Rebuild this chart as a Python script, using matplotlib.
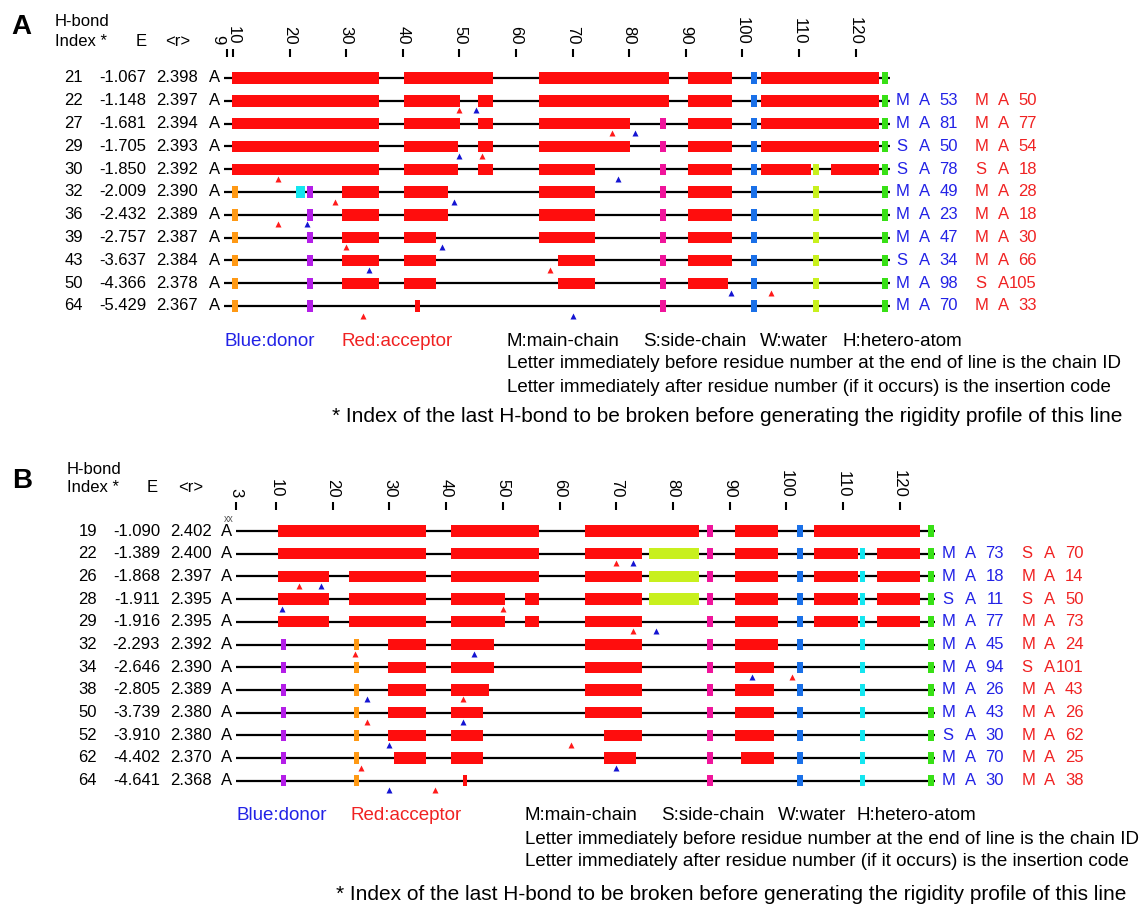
import matplotlib
matplotlib.use("Agg")
import matplotlib.pyplot as plt
from matplotlib.transforms import blended_transform_factory, ScaledTranslation

plt.rcParams['font.family'] = ['Liberation Sans', 'DejaVu Sans']

W, H = 1144, 906

# ---------------- data: panel A ----------------
a_index = [21, 22, 27, 29, 30, 32, 36, 39, 43, 50, 64]
a_energy = ["-1.067", "-1.148", "-1.681", "-1.705", "-1.850", "-2.009",
            "-2.432", "-2.757", "-3.637", "-4.366", "-5.429"]
a_rmean = ["2.398", "2.397", "2.394", "2.393", "2.392", "2.390",
           "2.389", "2.387", "2.384", "2.378", "2.367"]
a_donor = [None, ("M", "A", 53), ("M", "A", 81), ("S", "A", 50), ("S", "A", 78),
           ("M", "A", 49), ("M", "A", 23), ("M", "A", 47), ("S", "A", 34),
           ("M", "A", 98), ("M", "A", 70)]
a_acceptor = [None, ("M", "A", 50), ("M", "A", 77), ("M", "A", 54), ("S", "A", 18),
              ("M", "A", 28), ("M", "A", 18), ("M", "A", 30), ("M", "A", 66),
              ("S", "A", 105), ("M", "A", 33)]
# rigid clusters per line: (first residue, last residue, cluster id)
a_clusters = [
    [(9.8, 35.8, 1), (40.2, 56, 1), (64, 87, 1), (90.4, 98.1, 1), (101.6, 102.6, 2),
     (103.2, 124.2, 1), (124.6, 125.7, 3)],
    [(9.8, 35.8, 1), (40.2, 50.1, 1), (53.3, 56, 1), (64, 87, 1), (90.4, 98.1, 1),
     (101.6, 102.6, 2), (103.2, 124.2, 1), (124.6, 125.7, 3)],
    [(9.8, 35.8, 1), (40.2, 50.1, 1), (53.3, 56, 1), (64, 80.1, 1), (85.5, 86.5, 4),
     (90.4, 98.1, 1), (101.6, 102.6, 2), (103.2, 124.2, 1), (124.6, 125.7, 3)],
    [(9.8, 35.8, 1), (40.2, 49.8, 1), (53.3, 56, 1), (64, 80.1, 1), (85.5, 86.5, 4),
     (90.4, 98.1, 1), (101.6, 102.6, 2), (103.2, 124.2, 1), (124.6, 125.7, 3)],
    [(9.8, 35.8, 1), (40.2, 49.8, 1), (53.3, 56, 1), (64, 74, 1), (85.5, 86.5, 4),
     (90.4, 98.1, 1), (101.6, 102.6, 2), (103.2, 112.2, 1), (112.5, 113.5, 7),
     (115.7, 124.2, 1), (124.6, 125.7, 3)],
    [(9.8, 10.9, 6), (21.2, 22.8, 8), (23.1, 24.1, 5), (29.2, 35.8, 1), (40.2, 47.9, 1),
     (64, 74, 1), (85.5, 86.5, 4), (90.4, 98.1, 1), (101.6, 102.6, 2),
     (112.5, 113.5, 7), (124.6, 125.7, 3)],
    [(9.8, 10.9, 6), (23.1, 24.1, 5), (29.2, 35.8, 1), (40.2, 47.9, 1), (64, 74, 1),
     (85.5, 86.5, 4), (90.4, 98.1, 1), (101.6, 102.6, 2), (112.5, 113.5, 7),
     (124.6, 125.7, 3)],
    [(9.8, 10.9, 6), (23.1, 24.1, 5), (29.2, 35.8, 1), (40.2, 45.8, 1), (64, 74, 1),
     (85.5, 86.5, 4), (90.4, 98.1, 1), (101.6, 102.6, 2), (112.5, 113.5, 7),
     (124.6, 125.7, 3)],
    [(9.8, 10.9, 6), (23.1, 24.1, 5), (29.2, 35.8, 1), (40.2, 45.8, 1), (67.4, 74, 1),
     (85.5, 86.5, 4), (90.4, 98.1, 1), (101.6, 102.6, 2), (112.5, 113.5, 7),
     (124.6, 125.7, 3)],
    [(9.8, 10.9, 6), (23.1, 24.1, 5), (29.2, 35.8, 1), (40.2, 45.8, 1), (67.4, 74, 1),
     (85.5, 86.5, 4), (90.4, 97.5, 1), (101.6, 102.6, 2), (112.5, 113.5, 7),
     (124.6, 125.7, 3)],
    [(9.8, 10.9, 6), (23.1, 24.1, 5), (42.2, 43.1, 1), (85.5, 86.5, 4),
     (101.6, 102.6, 2), (112.5, 113.5, 7), (124.6, 125.7, 3)],
]
a_ticks = [9, 10, 20, 30, 40, 50, 60, 70, 80, 90, 100, 110, 120]
a_chain = (8.4, 126.0)

# ---------------- data: panel B ----------------
b_index = [19, 22, 26, 28, 29, 32, 34, 38, 50, 52, 62, 64]
b_energy = ["-1.090", "-1.389", "-1.868", "-1.911", "-1.916", "-2.293",
            "-2.646", "-2.805", "-3.739", "-3.910", "-4.402", "-4.641"]
b_rmean = ["2.402", "2.400", "2.397", "2.395", "2.395", "2.392",
           "2.390", "2.389", "2.380", "2.380", "2.370", "2.368"]
b_donor = [None, ("M", "A", 73), ("M", "A", 18), ("S", "A", 11), ("M", "A", 77),
           ("M", "A", 45), ("M", "A", 94), ("M", "A", 26), ("M", "A", 43),
           ("S", "A", 30), ("M", "A", 70), ("M", "A", 30)]
b_acceptor = [None, ("S", "A", 70), ("M", "A", 14), ("S", "A", 50), ("M", "A", 73),
              ("M", "A", 24), ("S", "A", 101), ("M", "A", 43), ("M", "A", 26),
              ("M", "A", 62), ("M", "A", 25), ("M", "A", 38)]
b_clusters = [
    [(10.4, 36.5, 1), (40.8, 56.4, 1), (64.5, 84.6, 1), (86, 87, 4), (90.9, 98.5, 1),
     (101.9, 102.9, 2), (104.9, 123.6, 1), (125, 126, 3)],
    [(10.4, 36.5, 1), (40.8, 56.4, 1), (64.5, 74.5, 1), (75.8, 84.6, 7), (86, 87, 4),
     (90.9, 98.5, 1), (101.9, 102.9, 2), (104.9, 112.6, 1), (113, 113.9, 8),
     (116, 123.6, 1), (125, 126, 3)],
    [(10.4, 19.4, 1), (22.8, 36.5, 1), (40.8, 56.4, 1), (64.5, 74.5, 1), (75.8, 84.6, 7),
     (86, 87, 4), (90.9, 98.5, 1), (101.9, 102.9, 2), (104.9, 112.6, 1),
     (113, 113.9, 8), (116, 123.6, 1), (125, 126, 3)],
    [(10.4, 19.4, 1), (22.8, 36.5, 1), (40.8, 50.4, 1), (53.9, 56.4, 1), (64.5, 74.5, 1),
     (75.8, 84.6, 7), (86, 87, 4), (90.9, 98.5, 1), (101.9, 102.9, 2),
     (104.9, 112.6, 1), (113, 113.9, 8), (116, 123.6, 1), (125, 126, 3)],
    [(10.4, 19.4, 1), (22.8, 36.5, 1), (40.8, 50.4, 1), (53.9, 56.4, 1), (64.5, 74.5, 1),
     (86, 87, 4), (90.9, 98.5, 1), (101.9, 102.9, 2), (104.9, 112.6, 1),
     (113, 113.9, 8), (116, 123.6, 1), (125, 126, 3)],
    [(10.8, 11.7, 5), (23.8, 24.7, 6), (29.8, 36.5, 1), (40.8, 48.4, 1), (64.5, 74.5, 1),
     (86, 87, 4), (90.9, 98.5, 1), (101.9, 102.9, 2), (113, 113.9, 8), (125, 126, 3)],
    [(10.8, 11.7, 5), (23.8, 24.7, 6), (29.8, 36.5, 1), (40.8, 48.4, 1), (64.5, 74.5, 1),
     (86, 87, 4), (90.9, 97.8, 1), (101.9, 102.9, 2), (113, 113.9, 8), (125, 126, 3)],
    [(10.8, 11.7, 5), (23.8, 24.7, 6), (29.8, 36.5, 1), (40.8, 47.5, 1), (64.5, 74.5, 1),
     (86, 87, 4), (90.9, 97.8, 1), (101.9, 102.9, 2), (113, 113.9, 8), (125, 126, 3)],
    [(10.8, 11.7, 5), (23.8, 24.7, 6), (29.8, 36.5, 1), (40.8, 46.5, 1), (64.5, 74.5, 1),
     (86, 87, 4), (90.9, 97.8, 1), (101.9, 102.9, 2), (113, 113.9, 8), (125, 126, 3)],
    [(10.8, 11.7, 5), (23.8, 24.7, 6), (29.8, 36.5, 1), (40.8, 46.5, 1), (67.9, 74.5, 1),
     (86, 87, 4), (90.9, 97.8, 1), (101.9, 102.9, 2), (113, 113.9, 8), (125, 126, 3)],
    [(10.8, 11.7, 5), (23.8, 24.7, 6), (30.8, 36.5, 1), (40.8, 46.5, 1), (67.9, 73.5, 1),
     (86, 87, 4), (92, 97.8, 1), (101.9, 102.9, 2), (113, 113.9, 8), (125, 126, 3)],
    [(10.8, 11.7, 5), (23.8, 24.7, 6), (42.9, 43.7, 1), (86, 87, 4),
     (101.9, 102.9, 2), (113, 113.9, 8), (125, 126, 3)],
]
b_ticks = [3, 10, 20, 30, 40, 50, 60, 70, 80, 90, 100, 110, 120]
b_chain = (3.0, 126.2)

cluster_colors = {1: "#ff0d0d", 2: "#1a70e8", 3: "#38e016", 4: "#f0149b",
                  5: "#b41ee8", 6: "#ff9914", 7: "#c8f01e", 8: "#14e6f0"}
blue_txt = "#2222e6"
red_txt = "#f02222"

fig = plt.figure(figsize=(W / 100, H / 100), dpi=100)
fig.patch.set_facecolor("white")


def fx(px):
    return px / W


def fy(py):
    return 1 - py / H


def draw_panel(letter, rect, xlim, ylim, ticks, chain, idx, energy, rmean,
               donor, acceptor, clusters, cols, right, header, notes):
    # rect in pixels: left, top, right, bottom
    l, t, r, b = rect
    ax = fig.add_axes([fx(l), fy(b), fx(r) - fx(l), fy(t) - fy(b)])
    ax.set_xlim(*xlim)
    ax.set_ylim(*ylim)
    for s in ax.spines.values():
        s.set_visible(False)
    ax.set_yticks([])
    ax.xaxis.set_ticks_position("top")
    ax.set_xticks(ticks)
    ax.set_xticklabels([str(v) for v in ticks])
    ax.tick_params(axis="x", direction="out", length=5.5, width=1.5, pad=3.5,
                   labelsize=12, labelrotation=-90, color="black")

    rows = list(range(len(idx)))
    ax.hlines(rows, chain[0], chain[1], color="black", lw=1.6, zorder=1)
    for i, segs in enumerate(clusters):
        for s0, s1, cid in segs:
            ax.barh(i, s1 - s0, left=s0, height=0.5, color=cluster_colors[cid],
                    edgecolor="none", zorder=2)
        if donor[i] is not None:
            ax.plot(donor[i][2], i + 0.42, marker="^", color="#1414d2", ms=5,
                    mec="none", zorder=3, clip_on=False)
        if acceptor[i] is not None:
            ax.plot(acceptor[i][2], i + 0.42, marker="^", color="#ff1a1a", ms=5,
                    mec="none", zorder=3, clip_on=False)

    tr = blended_transform_factory(fig.transFigure, ax.transData)
    c_idx, c_e, c_r, c_a = cols
    for i in rows:
        ax.text(fx(c_idx), i, str(idx[i]), transform=tr, ha="right", va="center",
                fontsize=12)
        ax.text(fx(c_e), i, energy[i], transform=tr, ha="right", va="center",
                fontsize=12)
        ax.text(fx(c_r), i, rmean[i], transform=tr, ha="right", va="center",
                fontsize=12)
        ax.text(fx(c_a), i, "A", transform=tr, ha="right", va="center",
                fontsize=12)
        for lab, x0, colr in ((donor[i], right[0], blue_txt),
                              (acceptor[i], right[1], red_txt)):
            if lab is None:
                continue
            ax.text(fx(x0), i, lab[0], transform=tr, ha="left", va="center",
                    fontsize=12, color=colr)
            ax.text(fx(x0 + 22.5), i, lab[1], transform=tr, ha="left",
                    va="center", fontsize=12, color=colr)
            ax.text(fx(x0 + 62), i, str(lab[2]), transform=tr, ha="right",
                    va="center", fontsize=12, color=colr)

    # header
    (lx, ly), (hx, hy1, hy2), ex, rx = header
    fig.text(fx(lx), fy(ly), letter, fontsize=20, weight="bold", va="center")
    fig.text(fx(hx), fy(hy1), "H-bond", fontsize=12, va="center")
    fig.text(fx(hx), fy(hy2), "Index *", fontsize=12, va="center")
    fig.text(fx(ex), fy(hy2), "E", fontsize=12, va="center", ha="center")
    fig.text(fx(rx), fy(hy2), "<r>", fontsize=12, va="center", ha="center")

    # notes below the profile
    (bx, rx2, ny), legend_x, (lt_x, y2, y3), (sx, sy) = notes
    fig.text(fx(bx), fy(ny), "Blue:donor", color=blue_txt, fontsize=13.5, va="center")
    fig.text(fx(rx2), fy(ny), "Red:acceptor", color=red_txt, fontsize=13.5, va="center")
    for x0, s in zip(legend_x, ["M:main-chain", "S:side-chain", "W:water",
                                "H:hetero-atom"]):
        fig.text(fx(x0), fy(ny), s, fontsize=13.5, va="center")
    fig.text(fx(lt_x), fy(y2), "Letter immediately before residue number at the "
             "end of line is the chain ID", fontsize=13.5, va="center")
    fig.text(fx(lt_x), fy(y3), "Letter immediately after residue number (if it "
             "occurs) is the insertion code", fontsize=13.5, va="center")
    fig.text(fx(sx), fy(sy), "* Index of the last H-bond to be broken before "
             "generating the rigidity profile of this line", fontsize=15,
             va="center")
    return ax


# panel A: residue 10 at x=233 px, 5.66 px per residue; rows from y=78, 22.8 px apart
a_y0, a_dy, a_top = 78.0, 22.8, 57.0
axA = draw_panel(
    "A", (233 - 5.66 * 10, a_top, 233 + 5.66 * 120, a_y0 + a_dy * 10.6),
    (0, 130), (10.6, (a_top - a_y0) / a_dy), a_ticks, a_chain,
    a_index, a_energy, a_rmean, a_donor, a_acceptor, a_clusters,
    (83, 146, 198, 220), (896, 975),
    ((11, 27), (55, 21, 42), 141, 178),
    ((224, 341.5, 341), (507, 643, 760, 842), (507, 364, 387), (332, 416)))
# the "9" label sits left of its tick so that it clears the "10"
lab9 = axA.get_xticklabels()[0]
lab9.set_transform(lab9.get_transform() + ScaledTranslation(-0.095, 0, fig.dpi_scale_trans))

# panel B: residue 10 at x=276 px, 5.67 px per residue; rows from y=531, 22.7 px apart
b_y0, b_dy, b_top = 531.0, 22.7, 510.0
axB = draw_panel(
    "B", (276 - 5.67 * 10, b_top, 276 + 5.67 * 120, b_y0 + b_dy * 11.6),
    (0, 130), (11.6, (b_top - b_y0) / b_dy), b_ticks, b_chain,
    b_index, b_energy, b_rmean, b_donor, b_acceptor, b_clusters,
    (97, 160, 212, 232), (942, 1021.5),
    ((12, 481), (67, 469, 487), 152, 191),
    ((236, 350.5, 816), (525, 661, 778, 857), (525, 839, 862), (335.5, 894)))

fig.text(fx(224), fy(519), "xx", fontsize=7, color="#555555", va="center")

fig.savefig("out.png", dpi=100)
